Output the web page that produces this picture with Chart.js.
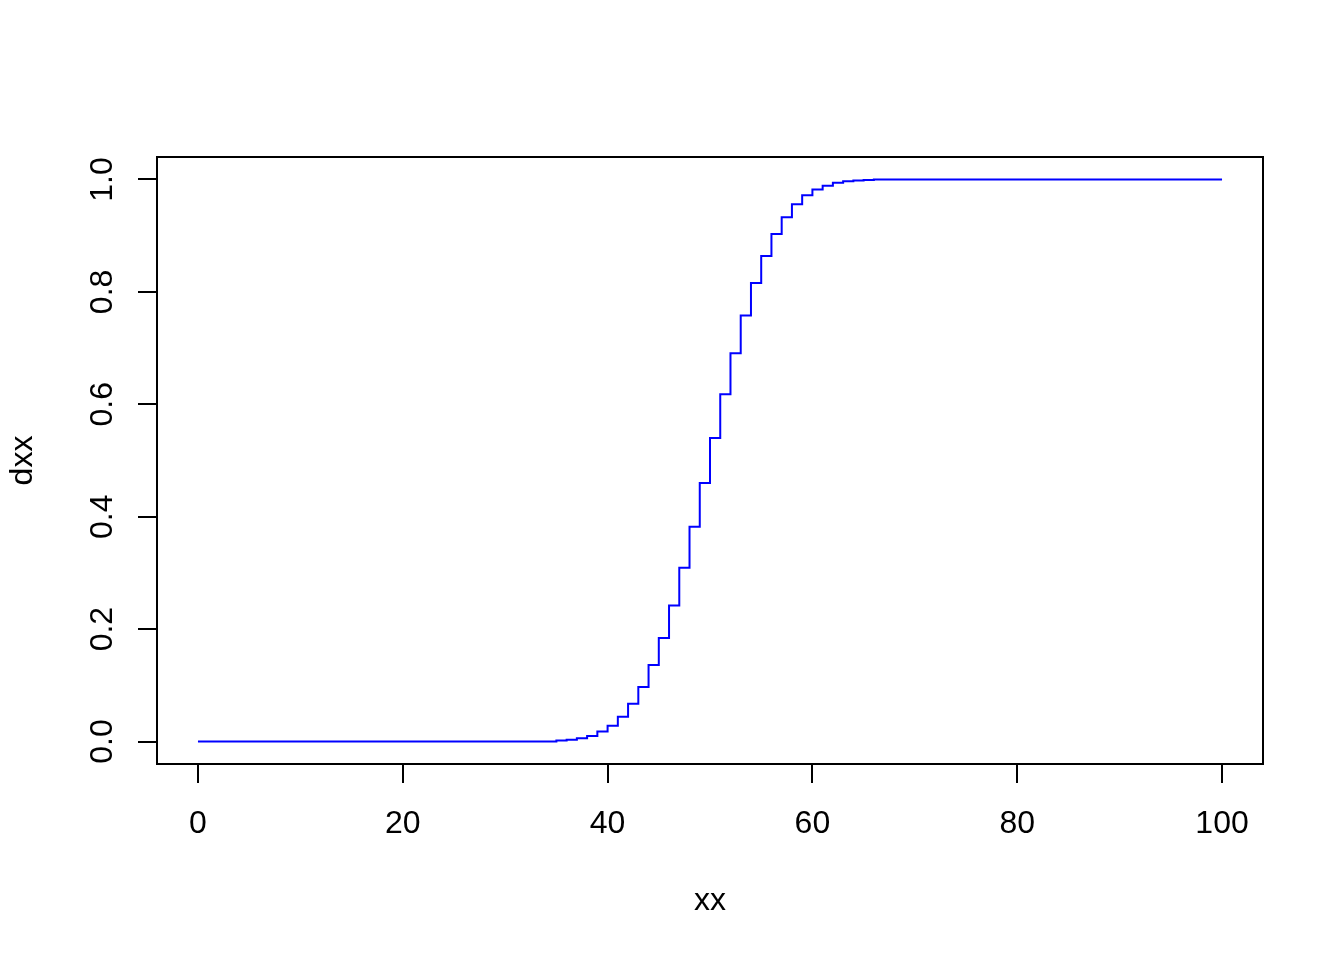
<!DOCTYPE html>
<html>
<head>
<meta charset="utf-8">
<script src="https://cdn.jsdelivr.net/npm/chart.js@4/dist/chart.umd.min.js"></script>
<style>
  html, body { margin: 0; padding: 0; background: #fff; }
  #wrap { width: 1344px; height: 960px; }
</style>
</head>
<body>
<div id="wrap"><canvas id="cdfChart" width="1344" height="960"></canvas></div>
<script>
// x values (xx) and step heights (dxx)
const xx = [
  0, 1, 2, 3, 4, 5, 6, 7, 8, 9, 10, 11, 12, 13, 14, 15, 16, 17, 18, 19,
  20, 21, 22, 23, 24, 25, 26, 27, 28, 29, 30, 31, 32, 33, 34, 35, 36, 37, 38, 39,
  40, 41, 42, 43, 44, 45, 46, 47, 48, 49, 50, 51, 52, 53, 54, 55, 56, 57, 58, 59,
  60, 61, 62, 63, 64, 65, 66, 67, 68, 69, 70, 71, 72, 73, 74, 75, 76, 77, 78, 79,
  80, 81, 82, 83, 84, 85, 86, 87, 88, 89, 90, 91, 92, 93, 94, 95, 96, 97, 98, 99,
  100
];
const dxx = [
  0, 0, 0, 0, 0, 0, 0, 0, 0, 0, 0, 0, 0, 0, 0, 0, 0, 0, 0, 0,
  0, 0, 0, 0, 0, 0, 0, 0, 0, 0, 0, 0, 0, 0, 0, 0.002, 0.003, 0.006, 0.010, 0.018,
  0.028, 0.044, 0.067, 0.097, 0.136, 0.184, 0.242, 0.309, 0.382, 0.460,
  0.540, 0.618, 0.691, 0.758, 0.816, 0.864, 0.903, 0.933, 0.956, 0.972,
  0.982, 0.989, 0.994, 0.997, 0.998, 0.999, 1, 1, 1, 1, 1, 1, 1, 1, 1, 1, 1, 1, 1, 1,
  1, 1, 1, 1, 1, 1, 1, 1, 1, 1, 1, 1, 1, 1, 1, 1, 1, 1, 1, 1,
  1
];
const xTicks = [0, 20, 40, 60, 80, 100];
const yTicks = [0, 0.2, 0.4, 0.6, 0.8, 1.0];
const xTitle = 'xx';
const yTitle = 'dxx';

const FONT = '32px "Liberation Sans", Arial, sans-serif';

// box round the plot, tick labels and axis titles placed like base R
const rPlotDecor = {
  id: 'rPlotDecor',
  afterDraw(chart) {
    const ctx = chart.ctx;
    const area = chart.chartArea;
    const xs = chart.scales.x;
    const ys = chart.scales.y;
    ctx.save();
    ctx.strokeStyle = '#000';
    ctx.lineWidth = 2;
    ctx.strokeRect(area.left, area.top, area.right - area.left, area.bottom - area.top);

    ctx.fillStyle = '#000';
    ctx.font = FONT;
    ctx.textAlign = 'center';
    ctx.textBaseline = 'alphabetic';
    xTicks.forEach(v => {
      ctx.fillText(String(v), xs.getPixelForValue(v), 833);
    });
    ctx.fillText(xTitle, (area.left + area.right) / 2, 910);

    yTicks.forEach(v => {
      ctx.save();
      ctx.translate(112, ys.getPixelForValue(v));
      ctx.rotate(-Math.PI / 2);
      ctx.fillText(v.toFixed(1), 0, 0);
      ctx.restore();
    });
    ctx.save();
    ctx.translate(32, (area.top + area.bottom) / 2);
    ctx.rotate(-Math.PI / 2);
    ctx.fillText(yTitle, 0, 0);
    ctx.restore();
    ctx.restore();
  }
};

const ctx = document.getElementById('cdfChart').getContext('2d');
new Chart(ctx, {
  type: 'line',
  data: {
    datasets: [{
      label: 'dxx',
      data: xx.map((x, i) => ({ x: x, y: dxx[i] })),
      borderColor: '#0000FF',
      borderWidth: 2,
      pointRadius: 0,
      stepped: 'before',
      fill: false
    }]
  },
  options: {
    responsive: false,
    animation: false,
    devicePixelRatio: 1,
    layout: { padding: { top: 157, right: 81, bottom: 0, left: 0 } },
    plugins: {
      legend: { display: false },
      tooltip: { enabled: false }
    },
    scales: {
      x: {
        type: 'linear',
        position: 'bottom',
        min: -4,
        max: 104,
        afterBuildTicks: scale => { scale.ticks = xTicks.map(v => ({ value: v })); },
        afterFit: scale => { scale.height = 196; },
        grid: { drawOnChartArea: false, drawTicks: true, tickLength: 19, color: '#000', lineWidth: 2 },
        border: { display: false },
        ticks: { display: false }
      },
      y: {
        type: 'linear',
        position: 'left',
        min: -0.04,
        max: 1.04,
        afterBuildTicks: scale => { scale.ticks = yTicks.map(v => ({ value: v })); },
        afterFit: scale => { scale.width = 157; },
        grid: { drawOnChartArea: false, drawTicks: true, tickLength: 19, color: '#000', lineWidth: 2 },
        border: { display: false },
        ticks: { display: false }
      }
    }
  },
  plugins: [rPlotDecor]
});
</script>
</body>
</html>
